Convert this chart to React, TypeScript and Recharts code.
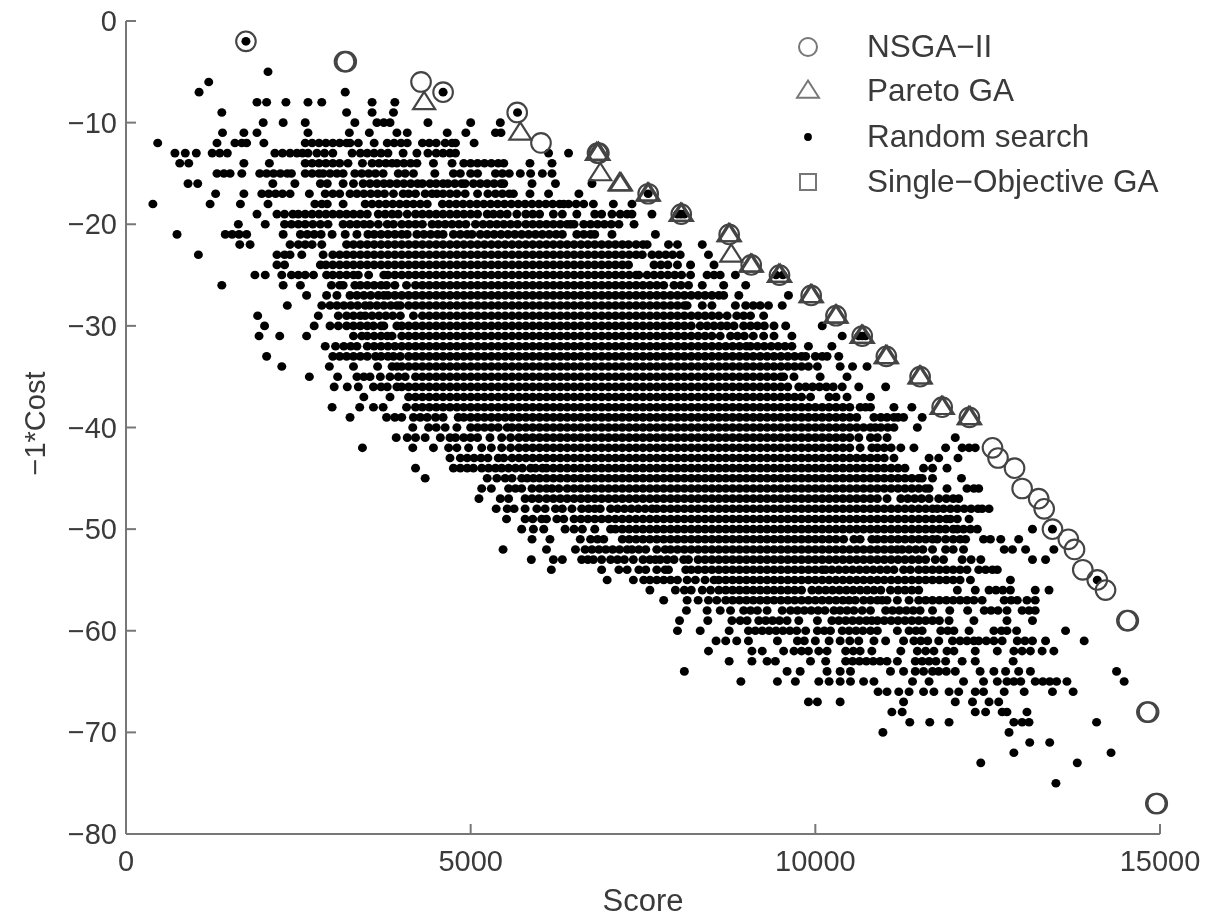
import React from "react";
import { ScatterChart, Scatter, XAxis, YAxis, Label, Legend } from "recharts";

// All scores below are written in hundreds of points.
const randomRows: [number, number[]][] = [
[-2,[17.4]],
[-5,[20.6]],
[-6,[12]],
[-7,[10.6,31.8,46]],
[-8,[19,20.4,23.2,26.4,28.4,35.7,39]],
[-9,[13.9,32,35.7,38.8,56.8]],
[-10,[19.9,22.8,26,33.2,36.4,37.4,38.3,43.8,50,54.3]],
[-11,[14,17.1,19,26.4,32.4,35.3,39.3,40.8,46.6,49.3,53.6,54.4]],
[-12,[4.6,13.2,15.8,16.8,17.5,20,26,27,28,29,30,31,32,32.5,33.7,36,37.9,38.9,39.9,40.8,43,44,45,46.3,47.3,47.8,50.5]],
[-13,[7.1,8.6,10.2,12.5,13.6,14.7,21.6,22.7,23.8,24.8,25.6,26.4,27.7,28.8,30,32.8,34,35,36,37,38,40.2,42.2,43.8,45,46,47,47.8,61.3,64.2]],
[-14,[7.8,9.1,17.1,20.8,26,27,28,29,30,31,32.2,34.3,35.7,36.7,37.7,38.6,39.3,40.3,41.3,42.2,44.6,47.3,49,50,51,52,53,54,54.8,58.6,61.8]],
[-15,[13.2,14.2,15.1,16.8,19.4,20.4,21.4,22.4,23.4,24,26,27,28,28.6,29.6,30.6,31.5,33.2,34.2,35.2,36.2,37.3,39.5,40.5,41.7,44.8,47.5,48.5,50,51,53.6,54.6,55.6,57.2,58.7,60.4,61.8]],
[-16,[9,10.4,21.3,24.5,28.2,29.2,31.5,33,34.4,35.4,36.4,37.4,38.3,39.3,40.3,41.3,42.3,43,44.1,45,46,46.7,47.7,48.7,49.2,50.4,51.4,52.4,53.4,54.4,54.8,58.9,62.3,67.6]],
[-17,[13,17.1,19.7,20.7,21.7,22.7,23.8,26.6,28.9,30,31,32.5,33.5,34.5,35.5,36.5,37.5,38.8,40.2,41,42,43.4,44.4,45.1,46,47,48,49.2,51,52.5,53.6,54.6,55.6,56.2,58.6,61.3,65.7,75.75]],
[-18,[3.9,12.2,16.6,20.6,27.4,28.4,29.2,31.5,34.7,35.7,36.7,37.7,38.7,39.7,40.7,41.7,42.7,43.7,45.9,46.9,47.9,48.9,49.9,50.9,51.9,52.9,53.9,54.9,55.9,56.9,57.9,58.9,59.9,60.9,61.9,62.9,63.5,64.2,65.3,66.4,67.8,70.7,73.4]],
[-19,[19,21.9,23,24.2,25,26,27,28,29,30,31,32,33,34,35,36.6,37.6,38.6,39.5,40.8,42,43,44,45,46,47,48,49,50,51,52.4,53.3,54.3,55.3,56.7,58,59,60,62,63.3,65.4,68,69,70.5,71.7,72.7,73.4,76.3,80,80.5,81]],
[-20,[16.3,20.2,23,24,25,26,27.1,28.2,29.3,31.5,32.5,33.5,34.5,35.4,36.6,37.9,38.8,40,41,42,43,44.4,45.3,46.3,47.3,48.3,49.3,50.7,51.8,52.8,53.8,54.8,55.8,56.8,58,59,60,61,62,63,64,64.5,65,66.4,67.4,68.4,69.4,70.4,71.5,73.7]],
[-21,[7.4,14.4,15.4,16.4,17.5,22.8,25.3,26.3,27.3,28.3,29.9,31.8,33.5,35.1,36,37,38,39,40,40.8,42.2,43.2,44.2,45.2,46,47.5,48.5,49.5,50.2,51.4,52.4,53.4,54.4,55.4,56.4,57.4,58.4,59.4,60.4,61.4,62.4,63.3,65.4,66.4,67.4,68,70.5,76.8]],
[-22,[16.5,18,23.8,25,26,27,28.4,32,33,34,35,36,37,38,39,40,41,42,43,44,45,46,47,48,49,50,51,52,53,54,55,56,57,58,59,60,61,62,63,64,65,66,67,68,69,70,71,72,72.9,74,75,75.6,78.7,80,83.6]],
[-23,[10.5,21.9,23,23.8,25.5,28.6,30,31,32,33,34,35,36,37,38,39,40,41,42,43,44,45,46,47,48,49,50,51,52,53,54,55,56,57,58,59,60,61,62,63,64,65,66,67,68,69,70,71,72,73,74,74.9,76.3,77.3,78.3,79.3,80.4,84.5]],
[-24,[21.9,23,28.2,29,30,31,32,33,34,35,36,37,38,39,40,41,42,43,44,45,46,47,48,49,50,51,52,53,54,55,56,57,58,59,60,61,62,63,64,65,66,67,68,69,70,71,72,72.9,76.6,77.6,78.6,80,81.9,85.3]],
[-25,[18.7,20.2,22.6,24,25,26,27.2,29.1,30,31,32,33,33.7,35.2,37.4,38,39,40,41,42,43,44,45,46,47,48,49,50,51,52,53,54,55,56,57,58,59,60,61,62,63,64,65,66,67,68,69,70,71,72,73,74,74.4,75.6,76.6,77.6,78.6,79.6,80.6,81.9,84.3,85.3,86.2,88.4,94.3,95.3]],
[-26,[13.9,22.8,25.3,29.8,31,31.5,33.2,34,35,36,37,37.8,39,40.7,42,43,44,45,46,47,48,49,50,51,52,53,54,55,56,57,58,59,60,61,62,63,64,65,66,67,68,69,70,71,72,73,74,75,76,77,78,79.5,80.5,81.6,83.6,86.7,89.9]],
[-27,[26.2,29.1,30.6,32.5,33.5,34.5,35.5,36.6,37.4,38,39,40,41,42,43,44,45,46,47,48,49,50,51,52,53,54,55,56,57,58,59,60,61,62,63,64,65,66,67,68,69,70,71,72,73,74,75,76,77,78,79,80,81,82,83,84,85,86,86.7,88.9,96.1]],
[-28,[23.4,28.4,29.6,30.6,31.6,32.6,33.6,34.7,35.4,36.4,37.4,38.4,39.3,39.8,41,42,43,44,45,46,47,48,49,50,51,52,53,54,55,56,57,58,59,60,61,62,63,64,65,66,67,68,69,70,71,72,73,74,75,76,77,78,79,80,81,81.4,83.6,85,88.4,89.9,91,92,93.2,95.2]],
[-29,[19.1,27.9,30.8,32,33,34,34.7,35.7,36.7,37.7,38.7,39.8,41.7,43,44,45,46,47,48,49,50,51,52,53,54,55,56,57,58,59,60,61,62,63,64,65,66,67,68,69,70,71,72,73,74,75,76,77,78,79,80,81,82,83,84,85,86,87.2,88.6,89.6,90.6,92.5]],
[-30,[20.1,27.3,29.6,30.8,32,33,34,35,35.9,37,37.4,39.3,40,41,42,43,44,45,46,47,48,49,50,51,52,53,54,55,56,57,58,59,60,61,62,63,64,65,66,67,68,69,70,71,72,73,74,75,76,77,78,79,80,81,82,83.3,84.3,85.3,86.3,87.2,88.2,89.6,90.6,91.6,92.6,94,95.7,101]],
[-31,[19.3,22.3,26.2,33,34.2,35,36,37,37.9,38.6,40,41,42,43,44,45,46,47,48,49,50,51,52,53,54,55,56,57,58,59,60,61,62,63,64,65,66,67,68,69,70,71,72,73,74,75,76,77,78,79,80,81,82,83,84,85,86.2,87.7,88.7,89.7,91,92.5,94,96.6,103.9,106.3,106.8,107.3]],
[-32,[28.9,30.4,31.6,32.6,33.5,35,36,37,38,39,40,41,42,43,44,45,46,47,48,49,50,51,52,53,54,55,56,57,58,59,60,61,62,63,64,65,66,67,68,69,70,71,72,73,74,75,76,77,78,79,80,81,82,83,84,85,86,87,88,89,90,90.6,91.6,92.6,93.6,94.6,95.6,96.6,99,102.4]],
[-33,[20.4,30,31,32,33,34,35,36.2,37,38,38.8,39.8,41,42,43,44,45,46,47,48,49,50,51,52,53,54,55,56,57,58,59,60,61,62,63,64,65,66,67,68,69,70,71,72,73,74,75,76,77,78,79,80,81,82,83,84,85,86,87,88,89,90,91,92,93,94,95,96,97,98,98.6,100,101,101.7,103.4]],
[-34,[22.6,29.5,33,36.5,38.6,39.3,40,41,42,43,44,45,46,47,48,49,50,51,52,53,54,55,56,57,58,59,60,61,62,63,64,65,66,67,68,69,70,71,72,73,74,75,76,77,78,79,80,81,82,83,84,85,86,87,88,89,90,91,92,93,94,95,96,97,98,99,100.3,103.6,105.4,107.5]],
[-35,[26.6,30.7,33.5,34.5,35.4,36.9,38.3,39.5,40.5,42,43,44,45,46,47,48,49,50,51,52,53,54,55,56,57,58,59,60,61,62,63,64,65,66,67,68,69,70,71,72,73,74,75,76,77,78,79,80,81,82,83,84,85,86,87,88,89,90,91,92,93,94,95,95.4,96.9,100.7,104.6]],
[-36,[30.2,32.1,33.7,35.9,37,37.9,39.3,40,41,42,43,44,45,46,47,48,49,50,51,52,53,54,55,56,57,58,59,60,61,62,63,64,65,66,67,68,69,70,71,72,73,74,75,76,77,78,79,80,81,82,83,84,85,86,87,88,89,90,91,92,93,94,95,96,97.6,98.6,99.6,100.6,101.6,102.6,103.9,106.3,110.2]],
[-37,[34.5,38.3,41,42,43,44,45,46,47,48,49,50,51,52,53,54,55,56,57,58,59,60,61,62,63,64,65,66,67,68,69,70,71,72,73,74,75,76,77,78,79,80,81,82,83,84,85,86,87,88,89,90,91,92,93,94,95,96,97,98,99.3,102,103,104.6,108]],
[-38,[29.9,33.9,35.9,37.3,40.7,42,43,44,45,46,47,48,49,50,51,52,53,54,55,56,57,58,59,60,61,62,63,64,65,66,67,68,69,70,71,72,73,74,75,76,77,78,79,80,81,82,83,84,85,86,87,88,89,90,91,92,93,94,95,96,97,98,99,100,101,102,103,104,105,106.5,107.3,108,111.4,114]],
[-39,[32.5,37.8,39,40,41.7,42.7,43.7,44.9,46,48.2,49,50,51,52,53,54,55,56,57,58,59,60,61,62,63,64,65,66,67,68,69,70,71,72,73,74,75,76,77,78,79,80,81,82,83,84,85,86,87,88,89,90,91,92,93,94,95,96,97,98,99,100,101,102,103,104,105,106,108.5,109.5,110.4,111.4,112,112.8,115.5]],
[-40,[41.6,43.9,45,46.3,48,50,51,52,53,54,55.3,56,57,58,59,60,61,62,63,64,65,66,67,68,69,70,71,72,73,74,75,76,77,78,79,80,81,82,83,84,85,86,87,88,89,90,91,92,93,94,95,96,97,98,99,100,101,102,103,104,105,106,107,108,108.7,109.5,110.5,111.4,114.8]],
[-41,[39.2,40.8,42,43.4,45.6,47,47.8,49,50,51,52.8,54.5,55.8,57,58,59,60,61,62,63,64,65,66,67,68,69,70,71,72,73,74,75,76,77,78,79,80,81,82,83,84,85,86,87,88,89,90,91,92,93,94,95,96,97,98,99,100,101,102,103,104,105,106.3,108,109,110.4,120.3]],
[-42,[34.3,41.6,44.6,46.8,48,49.7,51.6,53,54.5,55.8,57,58,59,60,61,62,63,64,65,66,67,68,69,70,71,72,73,74,75,76,77,78,79,80,81,82,83,84,85,86,87,88,89,90,91,92,93,94,95,96,97,98,99,100,101,102,103,104,105,106.5,108.2,109,110,111,112.4,114.3,118.9,121.3,122.3,123.2]],
[-43,[47,48.5,49.5,50.5,51.5,52.5,54,54.8,56,57,58,59,60,61,62,63,64,65,66,67,68,69,70,71,72,73,74,75,76,77,78,79,80,81,82,83,84,85,86,87,88,89,90,91,92,93,94,95,96,97,98,99,100,101,102,103,104,105,106,107,108,109,110,111.4,116.5,117.9,120.7]],
[-44,[42,47.5,48.5,49.5,50.4,51.6,52.6,53.6,54.5,55.5,56.5,57.5,58.7,59.4,60.4,61,62,63,64,65,66,67,68,69,70,71,72,73,74,75,76,77,78,79,80,81,82,83,84,85,86,87,88,89,90,91,92,93,94,95,96,97,98,99,100,101,102,103,104,105,106,107,108,109,110,111,112,113,115.7,117,119.1]],
[-45,[43.4,52.4,53.8,55,56,57.4,58.2,59.1,60,61,62,63,64,65,66,67,68,69,70,71,72,73,74,75,76,77,78,79,80,81,82,83,84,85,86,87,88,89,90,91,92,93,94,95,96,97,98,99,100,101,102,103,104,105,106,107,108,109,110,111,112,113,114,115,115.5,117,121.2]],
[-46,[51.6,53,55.5,56.5,57.4,58.9,60,61,61.8,62.8,64,65,66,67,68,69,70,71,72,73,74,75,76,77,78,79,80,81,82,83,84,85,86,87,88,89,90,91,92,93,94,95,96,97,98,99,100,101,102,103,104,105,106,107,108,109,110,111,112,113,114,115,116,116.5,119.1,122,123,123.7]],
[-47,[51.2,54.3,55.5,57.9,58.9,59.9,61,62,63,64,65,66,67,68,69,70,71,72,73,74,75,76,77,78,79,80,81,82,83,84,85,86,87,88,89,90,91,92,93,94,95,96,97,98,99,100,101,102,103,104,105,106,107,108,109,110.4,112.4,113.4,114.4,115.4,116.5,117.9,119,120,120.8]],
[-48,[53.7,55.3,56.3,57.9,59.6,60.8,62.3,63.3,64.7,66.1,67.1,68,68.8,70.3,71.3,72.3,73.3,74.3,75.3,76.3,77,78,79,80,81,82,83,84,85,86,87,88,89,90,91,92,93,94,95,96,97,98,99,100,101,102,103,104,105,106,107,108,109,110,111,112,113,114,115,116,117,117.7,118.6,119.6,120.6,121.6,122.6,123.6,124.2,125.2]],
[-49,[55.2,57.9,59,60.3,61,62.5,63.5,65,66,67,68,69,70,71,72,73,74,75,76,77,78,79,80,81,82,83,84,85,86,87,88,89,90,91,92,93,94,95,96,97,98,99,100,101,102,103,104,105,106,107,108,109,110,111,112,113,114,115,116,117,118,119,119.6,120.6,122.3]],
[-50,[57.4,59.1,60.6,63.7,65,66.2,68,70.3,71,72,73,74,75,76,77,78,79,80,81,82,83,84,85,86,87,88,89,90,91,92,93,94,95,96,97,98,99,100,101,102,103,104,105,106,107,108,109,110,111,112,113,114,115,116,117,118,118.9,120,120.6,121.5,122.5,123.5,131.5,134.4]],
[-51,[58.9,61.5,65.9,67.4,68.4,69.3,72,73,74,75,76,77,78,79,80,81,82,83,84,85,86,87,88,89,90,91,92,93,94,95,96,97,98,99,100,101,102,103,104.1,105.6,106.5,108.2,109,110,111,112,113,114,115,116,117,117.7,118.9,120,121,121.8,124.4,125.4,126.9,129.5]],
[-52,[54.7,61,65.2,66.6,67.6,68.6,69.6,70.6,71.6,72.7,73.4,74.4,75.4,77,78.2,79,80,81,82,83,84,85,86,87,88,89,90,91,92,93,94,95,96,97,98,99,100,101,102,103,104,105,106,107,108,109,110,111,111.9,112.6,113.6,114.6,115.6,117,118.9,120,121.5,127.4,128.6,130.5,134.6]],
[-53,[58.8,62,63.3,66.1,67,67.8,69,70.3,71.3,72.3,73.6,75,76,76.8,77.5,78.5,79.5,80.9,81.6,83,84,85,86,87,88,89,90,91,92,93,94,95,96,97,98,99,100,101,102,103,104,105,106,107,108,109,110,111,112,113,114,115,116,117.4,118.6,121.3,122.6,124,131.5,133.4]],
[-54,[61.7,69,71.5,72.7,74.4,75.4,77,78.2,78.7,81.2,82,83,84,85,86,87,88,89,90,91,92,93,94,95,96,97,98,99,100,101,101.5,102.4,103.4,104.4,105.4,106.4,107.4,108.4,109.4,110.4,111.4,112.8,113.8,115,116,117,118,119,120,121,122,123.7,124.7,125.7,126.4]],
[-55,[69.8,73.6,75.1,76,77,78,79,80,81.4,82.6,84,85.3,86,87,88,89,90,91,92,93,94,95,96,97,98,99,100,101,102,103,104,105,106,107,108,109,110,111,112,113,114,115,116,117,118,119,120,121,122.5,128.3,140.9]],
[-56,[76,79.7,81,82,83.6,84.8,86,87,88,89,90,91,92,93,94,95,96,97,98,99.5,100.5,101.5,102.5,103.5,104.5,105.5,106.5,107.5,108.5,109.5,110.9,112,113,114,115,120.6,123.2,125.2,126.2,127.2,128.3,131.9,133.9]],
[-57,[78,81.4,83,84.5,85.7,87,88,89,90,91,92,93,94,95,96,97,98,99,100,101,102,103,104,104.9,105.8,107,108,109,109.7,110.4,111.9,113.6,115,116,117,118,119,120,121,122,123,124.2,127.4,128.4,129.3,130.7,131.9]],
[-58,[81.3,84.3,86.2,87.7,89.6,90.6,91.6,93,95.2,96.4,97.4,98.4,99.4,100.4,101.4,102.7,103.6,104.6,105.6,106.8,108,110.2,111.2,112.2,113.2,114.2,115.2,117,119.5,122.1,124.5,125.5,126.5,127.8,130,131,131.9]],
[-59,[80.3,84.4,87.9,89.1,90.1,91.8,92.8,93.8,94.8,95.9,97.6,100.3,102.4,103.4,104.4,105.4,106.4,107.4,108.2,109,110,111,112,113,114,115,116,117,118,119.4,123,127.8,131.5]],
[-60,[80,83.3,87.5,90.3,91.3,92.3,93.3,94.3,95.3,96.3,97.3,98.6,100.3,101.3,102.2,103.9,104.9,105.9,106.9,108,109,111.9,113.6,114.6,115.5,118.2,119.2,120.1,122.3,125.9,127,127.8,129.2,136.3]],
[-61,[85.6,87,88.6,90.3,94.5,97.4,98.4,100,102,103.6,105,106.3,108.5,110.2,112.8,114.3,115.3,116.3,117.9,119.9,121,122,123,123.7,124.8,125.9,127.1,129.3,130.4,131.5,133.4,139]],
[-62,[84.5,90.8,92.3,95.4,96.9,98,99,100.5,101.7,104.4,105.5,106.5,108.2,112.4,114.8,116,117.2,119.1,120.1,123.2,126.4,128.8,130,131.2,132.9,134.6]],
[-63,[87.5,90.8,93,94.2,99.3,101.5,104.4,105.4,106.4,107.4,108.4,109.4,110.4,111.9,114.5,115.5,116.5,117.5,118.9,121.3,123.2,128.7]],
[-64,[81,95.9,97.8,101.7,103.6,105.1,110.9,112.8,114.5,115.7,117,117.9,119,120.3,123.9,125.9,127.6,129.5,131.2,143.7]],
[-65,[89.2,94.5,97.1,100.5,102,103.6,105.1,107,108.5,114.1,116.5,121.5,124.4,126.4,127.8,128.8,129.8,131.9,133,134,135,136.5,144.8]],
[-66,[109.1,110.4,112.1,113.6,115.7,117.2,119.4,120.8,123.2,124.4,127.4,130.3,134.4,137.4]],
[-67,[99,100.3,103.6,112.8,120.3,122.8,125.2,126.6]],
[-68,[111.1,112.6,123.2,124.7,127.1,127.8,130.7]],
[-69,[113.7,116.6,119.4,128.8,130,131,140.8]],
[-70,[109.8,128.1]],
[-71,[131.1,134]],
[-72,[128.8,142.9]],
[-73,[124,138]],
[-75,[134.9]],
];

// Repeated near-equal entries are the overlapping runs that read as heavier marks in the picture.
const nsgaScores = [1740,3170,3195,4280,4600,5675,6020,6840,6860,7575,8055,8750,9070,9480,9940,10300,10680,11030,11520,11840,12235,12570,12650,12890,13000,13240,13320,13440,13670,13760,13880,14090,14210,14520,14540,14810,14835,14940,14960];
const nsgaCosts = [-2,-4,-4,-6,-7,-9,-12,-13,-13,-17,-19,-21,-24,-25,-27,-29,-31,-33,-35,-38,-39,-42,-43,-44,-46,-47,-48,-50,-51,-52,-54,-55,-56,-59,-59,-68,-68,-77,-77];
const paretoScores = [4325,5720,6830,6855,6880,7160,7180,7565,7585,8045,8065,8740,8760,8780,9060,9080,9470,9490,9930,9950,10290,10310,10670,10690,11020,11040,11510,11530,11830,11850,12225,12245];
const paretoCosts = [-8,-11,-13,-13,-15,-16,-16,-17,-17,-19,-19,-21,-21,-23,-24,-24,-25,-25,-27,-27,-29,-29,-31,-31,-33,-33,-35,-35,-38,-38,-39,-39];
const singleScores: number[] = [];
const singleCosts: number[] = [];

const xTicks = [0, 5000, 10000, 15000];
const yTicks = [0, -10, -20, -30, -40, -50, -60, -70, -80];
const legendLabels = ["NSGA\u2212II", "Pareto GA", "Random search", "Single\u2212Objective GA"];

const randomData = randomRows.flatMap(([cost, scores]) => scores.map((s) => ({ score: s * 100, cost })));
const zip = (xs: number[], ys: number[]) => xs.map((score, i) => ({ score, cost: ys[i] }));

const FONT = "'Liberation Sans', Arial, sans-serif";
const TEXT = "#3a3a3a";
const AXIS = "#777";
const MARK = "#444";

const dotShape = (p: any) => <ellipse cx={p.cx} cy={p.cy} rx={4.5} ry={4.3} fill="#000" />;
const circleShape = (p: any) => <circle cx={p.cx} cy={p.cy} r={9.8} fill="none" stroke={MARK} strokeWidth={2.1} />;
const triPath = (cx: number, cy: number, s: number) =>
  `M${cx},${cy - s * 0.95}L${cx + s},${cy + s * 0.62}L${cx - s},${cy + s * 0.62}Z`;
const triShape = (p: any) => <path d={triPath(p.cx, p.cy, 11)} fill="none" stroke={MARK} strokeWidth={2.2} />;
const squareShape = (p: any) => <rect x={p.cx - 8} y={p.cy - 8} width={16} height={16} fill="none" stroke={MARK} strokeWidth={2} />;

const XTick = (p: any) => (
  <g>
    <line x1={p.x} x2={p.x} y1={834} y2={824} stroke={AXIS} strokeWidth={2} />
    <text x={p.x} y={871} textAnchor="middle" fontSize={29} fontFamily={FONT} fill={TEXT}>{p.payload.value}</text>
  </g>
);
const YTick = (p: any) => (
  <g>
    <line x1={126} x2={136} y1={p.y} y2={p.y} stroke={AXIS} strokeWidth={2} />
    <text x={117} y={p.y + 10} textAnchor="end" fontSize={29} fontFamily={FONT} fill={TEXT}>
      {p.payload.value < 0 ? `\u2212${-p.payload.value}` : p.payload.value}
    </text>
  </g>
);

const legendRows = [47, 91, 137, 182];
const LegendBox = () => (
  <svg width={420} height={190} style={{ display: "block" }}>
    {legendLabels.map((t, i) => (
      <g key={t}>
        {i === 0 && <circle cx={48} cy={legendRows[i] - 21} r={9} fill="none" stroke="#777" strokeWidth={2} />}
        {i === 1 && <path d={triPath(48, legendRows[i] - 21, 11)} fill="none" stroke="#777" strokeWidth={2} />}
        {i === 2 && <circle cx={48} cy={legendRows[i] - 21} r={3.9} fill="#000" />}
        {i === 3 && <rect x={40} y={legendRows[i] - 29} width={16} height={16} fill="none" stroke="#777" strokeWidth={2} />}
        <text x={107} y={legendRows[i] - 21 + 10} fontSize={31.5} fontFamily={FONT} fill={TEXT}>{t}</text>
      </g>
    ))}
  </svg>
);

export default function App() {
  return (
    <div style={{ position: "absolute", left: 0, top: 0, width: 1209, height: 918, background: "#fff", filter: "blur(0.6px)" }}>
      <ScatterChart width={1209} height={918} margin={{ top: 21, right: 49, bottom: 0, left: 0 }}>
        <XAxis type="number" dataKey="score" domain={[0, 15000]} ticks={xTicks} height={84} interval={0}
          stroke={AXIS} strokeWidth={2} tickLine={false} tick={XTick}>
          <Label value="Score" position="insideBottom" offset={7} fontSize={31} fontFamily={FONT} fill={TEXT} />
        </XAxis>
        <YAxis type="number" dataKey="cost" domain={[-80, 0]} ticks={yTicks} width={126} interval={0}
          stroke={AXIS} strokeWidth={2} tickLine={false} tick={YTick}>
          <Label value={"\u22121*Cost"} angle={-90} position="insideLeft" offset={35} fontSize={29} fontFamily={FONT} fill={TEXT}
            dy={-4} style={{ textAnchor: "middle" }} />
        </YAxis>
        <Scatter name={legendLabels[2]} data={randomData} shape={dotShape} isAnimationActive={false} />
        <Scatter name={legendLabels[0]} data={zip(nsgaScores, nsgaCosts)} shape={circleShape} isAnimationActive={false} />
        <Scatter name={legendLabels[1]} data={zip(paretoScores, paretoCosts)} shape={triShape} isAnimationActive={false} />
        <Scatter name={legendLabels[3]} data={zip(singleScores, singleCosts)} shape={squareShape} isAnimationActive={false} />
        <Legend content={LegendBox} layout="vertical" verticalAlign="middle" align="center"
          wrapperStyle={{ left: 760, top: 21, width: 420, height: 190 }} />
      </ScatterChart>
    </div>
  );
}
